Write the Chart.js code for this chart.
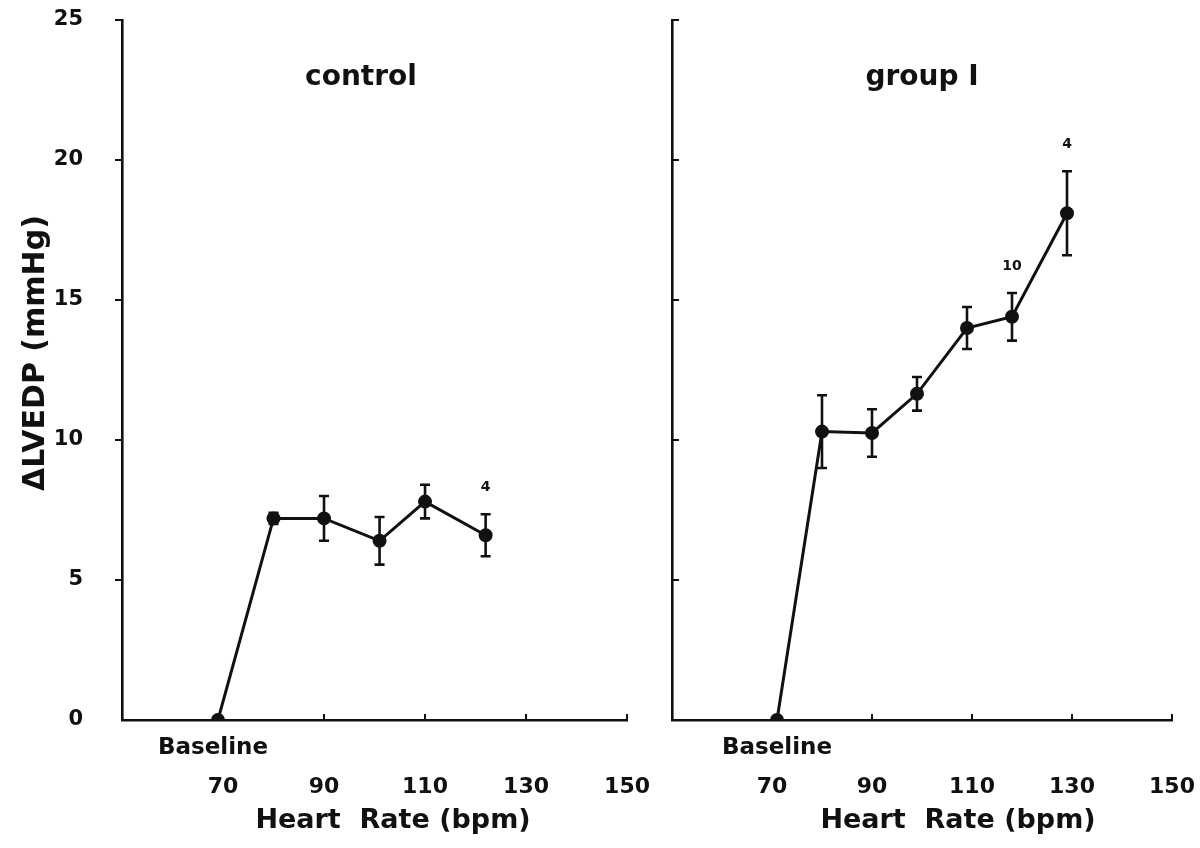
<!DOCTYPE html>
<html><head><meta charset="utf-8">
<script src="https://cdn.jsdelivr.net/npm/chart.js@4.4.1/dist/chart.umd.min.js"></script>
<style>
html,body{margin:0;padding:0;background:#fff;}
#wrap{position:relative;width:1200px;height:848px;background:#fff;}
canvas{position:absolute;top:0;}
</style></head><body>
<div id="wrap">
<canvas id="c1" width="650" height="848" style="left:0"></canvas>
<canvas id="c2" width="550" height="848" style="left:650px"></canvas>
</div>
<script>
// ---- data ----
const controlHR = [69, 80, 90, 101, 110, 122];
const controlLVEDP = [0, 7.2, 7.2, 6.4, 7.8, 6.6];
const controlSEM = [0, 0.2, 0.8, 0.85, 0.6, 0.75];
const controlNoteIdx = [5];
const controlNoteText = ['4'];

const groupHR = [71, 80, 90, 99, 109, 118, 129];
const groupLVEDP = [0, 10.3, 10.25, 11.65, 14.0, 14.4, 18.1];
const groupSEM = [0, 1.3, 0.85, 0.6, 0.75, 0.85, 1.5];
const groupNoteIdx = [5, 6];
const groupNoteText = ['10', '4'];

const xTickValues = [70, 90, 110, 130, 150];
const yTickValues = [0, 5, 10, 15, 20, 25];
const panelTitles = ['control', 'group I'];
const xAxisTitle = 'Heart  Rate (bpm)';
const yAxisTitle = '\u0394LVEDP (mmHg)';
const baselineLabel = 'Baseline';

const INK = '#111';
const FAM = '"DejaVu Sans", "Liberation Sans", Arial, sans-serif';
Chart.defaults.font.family = FAM;
Chart.defaults.color = INK;

function makeOverlay(cfg) {
  return {
    id: 'overlay_' + cfg.name,
    afterDatasetsDraw(chart) {
      const ctx = chart.ctx, xs = chart.scales.x, ys = chart.scales.y;
      ctx.save();
      ctx.strokeStyle = INK; ctx.lineWidth = 2.6; ctx.lineCap = 'butt';
      cfg.hr.forEach((h, i) => {
        const e = cfg.sem[i];
        if (!e) return;
        const px = xs.getPixelForValue(h);
        const t = ys.getPixelForValue(cfg.vals[i] + e);
        const b = ys.getPixelForValue(cfg.vals[i] - e);
        ctx.beginPath();
        ctx.moveTo(px, t); ctx.lineTo(px, b);
        ctx.moveTo(px - 5, t); ctx.lineTo(px + 5, t);
        ctx.moveTo(px - 5, b); ctx.lineTo(px + 5, b);
        ctx.stroke();
      });
      // axis tick marks
      ctx.lineWidth = 2;
      const x0 = xs.left, yb = ys.bottom;
      ctx.beginPath();
      xTickValues.forEach(v => {
        if (v === 70) return;
        const px = xs.getPixelForValue(v);
        ctx.moveTo(px, yb); ctx.lineTo(px, yb - 6);
      });
      yTickValues.forEach(v => {
        if (v === 0) return;
        const py = ys.getPixelForValue(v);
        ctx.moveTo(x0, py); ctx.lineTo(x0 + cfg.yTickDir * 7, py);
      });
      ctx.stroke();
      ctx.restore();
    },
    afterDraw(chart) {
      const ctx = chart.ctx, xs = chart.scales.x, ys = chart.scales.y;
      ctx.save();
      ctx.fillStyle = INK;
      // panel title
      ctx.font = 'bold 28px ' + FAM;
      ctx.textAlign = 'center'; ctx.textBaseline = 'alphabetic';
      ctx.fillText(cfg.title, cfg.titleX, 85);
      // baseline label
      ctx.font = 'bold 23px ' + FAM;
      ctx.textBaseline = 'middle';
      ctx.fillText(baselineLabel, xs.getPixelForValue(cfg.hr[0]) + cfg.baseDx, 748);
      // x axis title
      ctx.font = 'bold 27px ' + FAM;
      ctx.fillText(xAxisTitle, cfg.xTitleX, 821);
      // annotations (n)
      ctx.font = 'bold 14px ' + FAM;
      cfg.noteIdx.forEach((idx, k) => {
        const px = xs.getPixelForValue(cfg.hr[idx]);
        const top = ys.getPixelForValue(cfg.vals[idx] + cfg.sem[idx]);
        ctx.fillText(cfg.noteText[k], px, top - 27);
      });
      // y axis title
      if (cfg.yTitle) {
        ctx.font = 'bold 30px ' + FAM;
        ctx.translate(36, 353);
        ctx.rotate(-Math.PI / 2);
        ctx.fillText(yAxisTitle, 0, 0);
      }
      ctx.restore();
    }
  };
}

function makeChart(id, cfg) {
  return new Chart(document.getElementById(id), {
    type: 'line',
    data: {
      datasets: [{
        data: cfg.hr.map((h, i) => ({x: h, y: cfg.vals[i]})),
        borderColor: INK, backgroundColor: INK, borderWidth: 3,
        pointRadius: 5.5, pointBackgroundColor: INK, pointBorderColor: INK,
        tension: 0, fill: false
      }]
    },
    options: {
      responsive: false, animation: false, devicePixelRatio: 1,
      layout: {padding: {top: 20, right: cfg.padRight, bottom: 0, left: 0}},
      plugins: {legend: {display: false}, tooltip: {enabled: false}},
      scales: {
        x: {
          type: 'linear', min: 50, max: 150,
          afterBuildTicks: s => { s.ticks = xTickValues.map(v => ({value: v})); },
          afterFit: s => { s.height = 128; },
          grid: {display: true, drawOnChartArea: false, drawTicks: true, tickLength: 54, color: INK, tickColor: 'rgba(0,0,0,0)', lineWidth: 2},
          border: {display: true, color: INK, width: 2.6},
          ticks: {padding: 0, font: {size: 22, weight: 'bold'}, color: INK, maxRotation: 0}
        },
        y: {
          min: 0, max: 25,
          afterBuildTicks: s => { s.ticks = yTickValues.map(v => ({value: v})); },
          afterFit: s => { s.width = cfg.yWidth; },
          grid: {display: true, drawOnChartArea: false, drawTicks: true, tickLength: 39, color: INK, tickColor: 'rgba(0,0,0,0)', lineWidth: 2},
          border: {display: true, color: INK, width: 2.6},
          ticks: {display: cfg.yLabels, padding: 0, font: {size: 21, weight: 'bold'}, color: INK}
        }
      }
    },
    plugins: [makeOverlay(cfg)]
  });
}

makeChart('c1', {
  name: 'control', hr: controlHR, vals: controlLVEDP, sem: controlSEM,
  noteIdx: controlNoteIdx, noteText: controlNoteText,
  title: panelTitles[0], titleX: 361, xTitleX: 393, baseDx: -5, yTitle: true,
  padRight: 22, yWidth: 122, yTickDir: -1, yLabels: true
});
makeChart('c2', {
  name: 'group', hr: groupHR, vals: groupLVEDP, sem: groupSEM,
  noteIdx: groupNoteIdx, noteText: groupNoteText,
  title: panelTitles[1], titleX: 272, xTitleX: 308, baseDx: 0, yTitle: false,
  padRight: 28, yWidth: 22, yTickDir: 1, yLabels: false
});
</script>
</body></html>
